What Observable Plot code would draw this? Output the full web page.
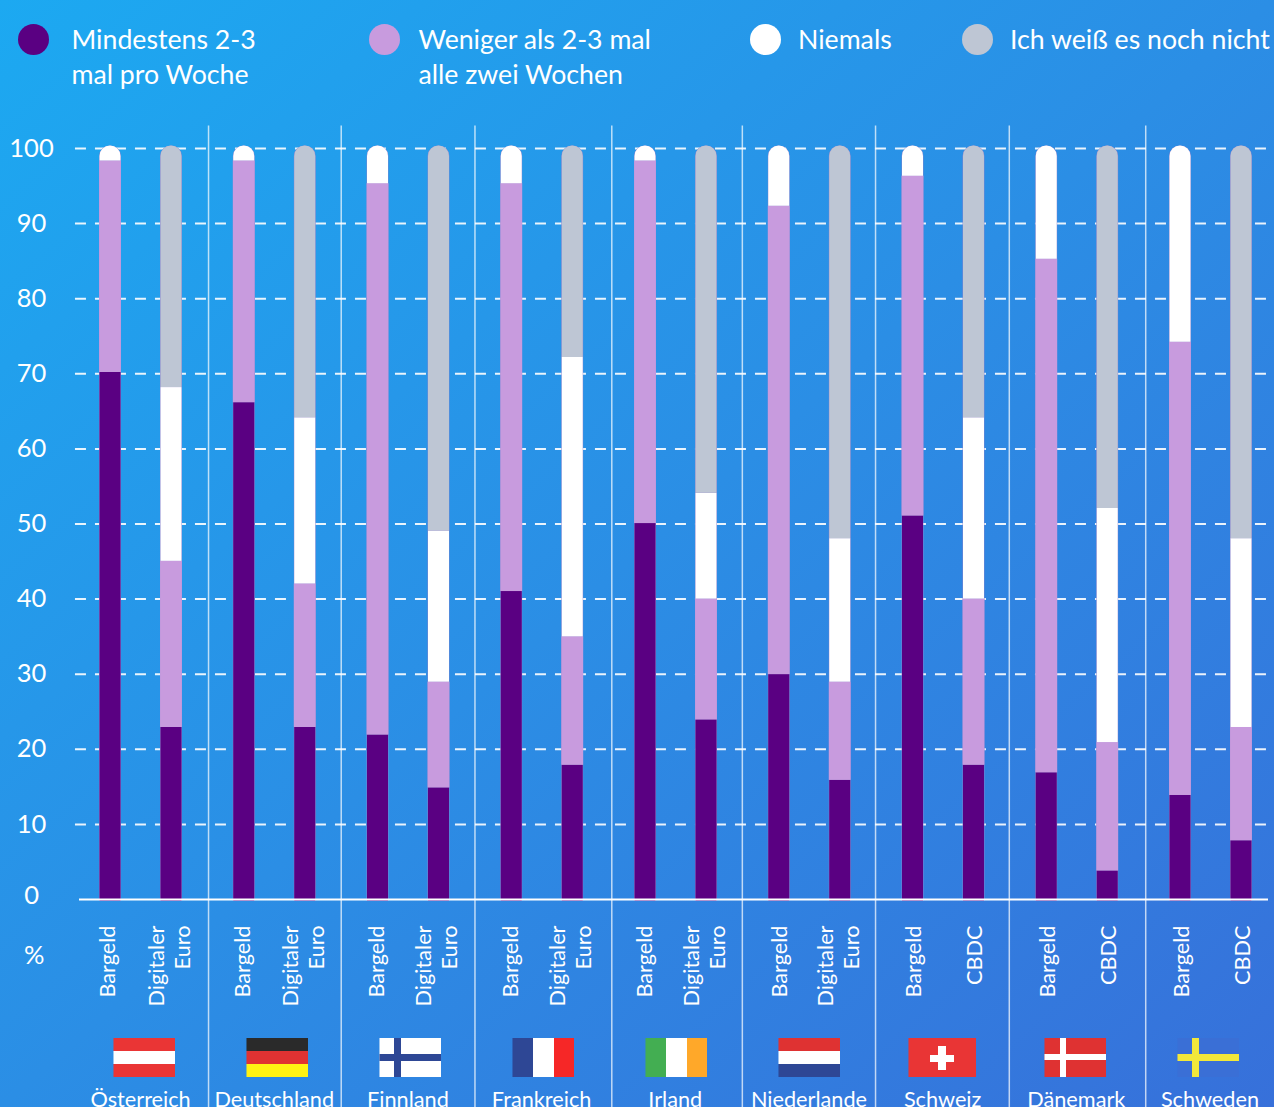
<!DOCTYPE html>
<html lang="de">
<head>
<meta charset="utf-8">
<script src="https://cdn.jsdelivr.net/npm/d3@7"></script>
<script src="https://cdn.jsdelivr.net/npm/@observablehq/plot@0.6"></script>
<style>
html,body{margin:0;padding:0;width:1274px;height:1107px;overflow:hidden}
body{background:linear-gradient(to bottom right,#1ca9f1 0%,#2b8ee5 50%,#3770da 100%);font-family:Lato,"Open Sans",sans-serif;color:#fff;position:relative}
#legend{position:absolute;left:0;top:0;width:1274px;height:120px;overflow:hidden}
.lg{position:absolute;top:22px;font-size:26.7px;line-height:35px;white-space:pre;color:#fff}
.dt{position:absolute;top:24px;width:31px;height:31px;border-radius:50%}
#chart{position:absolute;left:0;top:120px}
#chart svg{overflow:visible;background:transparent}
</style>
</head>
<body>
<div id="legend"></div>
<div id="chart"></div>
<script>
const countries = ["Österreich","Deutschland","Finnland","Frankreich","Irland","Niederlande","Schweiz","Dänemark","Schweden"];
const secondBarLabels = ["Digitaler\nEuro","Digitaler\nEuro","Digitaler\nEuro","Digitaler\nEuro","Digitaler\nEuro","Digitaler\nEuro","CBDC","CBDC","CBDC"];
const seriesNames = ["Mindestens 2-3\nmal pro Woche","Weniger als 2-3 mal\nalle zwei Wochen","Niemals","Ich weiß es noch nicht"];
const seriesColors = ["#5a0082","#c89bde","#ffffff","#bec6d4"];
const underlayColor = "#8f84cc";

// two values per country: Bargeld, then digital currency
const purple = [70,23, 66,23, 22,15, 41,18, 50,24, 30,16, 51,18, 17,4, 14,8];
const pink   = [28,22, 32,19, 73,14, 54,17, 48,16, 62,13, 45,22, 68,17, 60,15];
const white  = [2,23, 2,22, 5,20, 5,37, 2,14, 8,19, 4,24, 15,31, 26,25];
const grey   = [0,32, 0,36, 0,51, 0,28, 0,46, 0,52, 0,36, 0,48, 0,52];

const yTicks = [10,20,30,40,50,60,70,80,90,100];
const separators = [0.733,1.725,2.725,3.748,4.724,5.72,6.72,7.74];
const secondBarOffset = 0.456;
const barHalf = 0.0785;
// in the source the bars sit on a slightly taller scale than the dashed grid
const barStretch = 1.0057, barShift = -0.226;

const flagColors = {
  at:["#ea3535","#ffffff","#ea3535"], de:["#2a2a2a","#e03232","#fff212"],
  fr:["#2e4795","#ffffff","#f62727"], ie:["#43ae52","#ffffff","#ffa829"],
  nl:["#df3232","#ffffff","#2e4795"]
};
const svg = (w,h,b)=>"data:image/svg+xml,"+encodeURIComponent(`<svg xmlns="http://www.w3.org/2000/svg" width="${w}" height="${h}" viewBox="0 0 ${w} ${h}" shape-rendering="crispEdges">${b}</svg>`);
const r=(x,y,w,h,f)=>`<rect x="${x}" y="${y}" width="${w}" height="${h}" fill="${f}"/>`;
const hs=c=>svg(62,39,r(0,0,62,13,c[0])+r(0,13,62,13,c[1])+r(0,26,62,13,c[2]));
const vs=c=>svg(62,39,r(0,0,21,39,c[0])+r(21,0,21,39,c[1])+r(42,0,20,39,c[2]));
const flags = [
  hs(flagColors.at), hs(flagColors.de),
  svg(62,39,r(0,0,62,39,"#fff")+r(15,0,7,39,"#2e4795")+r(0,16,62,7,"#2e4795")),
  vs(flagColors.fr), vs(flagColors.ie), hs(flagColors.nl),
  svg(68,39,r(0,0,68,39,"#e93535")+r(22,17,24,7,"#fff")+r(30,8,8,24,"#fff")),
  svg(62,39,r(0,0,62,39,"#df3232")+r(16,0,6,39,"#fff")+r(0,16,62,6,"#fff")),
  svg(62,39,r(0,0,62,39,"#3a6fd6")+r(15,0,7,39,"#f2e83a")+r(0,16,62,7,"#f2e83a"))
];
const flagWidths = [62,62,62,62,62,62,68,62,62];

// legend
const legend = document.getElementById("legend");
const dotX = [18,369,750,962], textX=[71.5,418.5,798,1010];
seriesNames.forEach((n,i)=>{
  const d=document.createElement("div");d.className="dt";d.style.left=dotX[i]+"px";d.style.background=seriesColors[i];legend.appendChild(d);
  const t=document.createElement("div");t.className="lg";t.style.left=textX[i]+"px";t.textContent=n;legend.appendChild(t);
});

// build segments
const allSeries=[purple,pink,white,grey];
const barY=v=>v*barStretch+barShift;
const segments=[], bars=[];
purple.forEach((_,b)=>{
  const g=Math.floor(b/2), pos=g+(b%2?secondBarOffset:0);
  let acc=0;
  const last=allSeries.reduce((m,s,i)=>s[b]>0?i:m,0);
  allSeries.forEach((s,i)=>{
    if(s[b]<=0) return;
    segments.push({pos,series:i,y1:barY(acc),y2:barY(acc+s[b]),top:i===last});
    acc+=s[b];
  });
  bars.push({pos,y1:barY(0),y2:barY(acc)});
});
const halfOf=d=>barHalf+(d.series===1?0.003:0);
const rectOpts={x1:d=>d.pos-halfOf(d),x2:d=>d.pos+halfOf(d),y1:"y1",y2:"y2",fill:d=>seriesColors[d.series]};

const font="Lato, 'Open Sans', sans-serif";
const groups=countries.map((c,i)=>({c,i}));
const plot=Plot.plot({
  width:1274,height:987,
  marginLeft:79,marginRight:6,marginTop:28,marginBottom:208,
  style:{background:"transparent",fontFamily:font},
  x:{domain:[-0.2318,8.658],axis:null},
  y:{domain:[0,100],axis:null},
  marks:[
    Plot.ruleY(yTicks,{x1:-0.262,x2:8.69,stroke:"#fff",strokeWidth:2,strokeDasharray:"11 9",strokeOpacity:0.9}),
    Plot.ruleX(separators,{y1:-28,y2:103,stroke:"#fff",strokeWidth:1.5,strokeOpacity:0.7}),
    Plot.rect(bars,{x1:d=>d.pos-barHalf-0.003,x2:d=>d.pos+barHalf+0.003,y1:"y1",y2:"y2",fill:underlayColor,ry2:10.5}),
    Plot.rect(segments.filter(d=>!d.top),rectOpts),
    Plot.rect(segments.filter(d=>d.top),{...rectOpts,ry2:10.5}),
    Plot.ruleY([0],{stroke:"#fff",strokeWidth:2}),
    Plot.axisY(yTicks,{anchor:"left",tickSize:0,tickPadding:48,textAnchor:"middle",fontSize:25.5,label:null,fill:"#fff",color:"#fff"}),
    Plot.text(["0"],{x:-0.59,y:0,dy:-4,text:d=>d,fontSize:25.5,fill:"#fff"}),
    Plot.text(["%"],{x:-0.57,y:0,dy:56,text:d=>d,fontSize:25.5,fill:"#fff"}),
    Plot.text(groups,{x:d=>d.i*1.00375-0.015,y:0,dy:26,text:()=>"Bargeld",rotate:-90,textAnchor:"end",fontSize:21.7,fill:"#fff"}),
    Plot.text(groups,{x:d=>d.i+secondBarOffset-(secondBarLabels[d.i]==="CBDC"?0:0.022),y:0,dy:26,text:d=>secondBarLabels[d.i],rotate:-90,textAnchor:"end",lineHeight:1.2,fontSize:21.7,fill:"#fff"}),
    Plot.image(groups,{x:d=>d.i*0.9944+0.254,y:0,dy:158,src:d=>flags[d.i],width:d=>flagWidths[d.i],height:39,preserveAspectRatio:"none"}),
    Plot.text(groups,{x:d=>d.i*0.9994+0.225,y:0,dy:201,text:"c",fontSize:21.7,fill:"#fff"})
  ]
});
document.getElementById("chart").appendChild(plot);
</script>
</body>
</html>
